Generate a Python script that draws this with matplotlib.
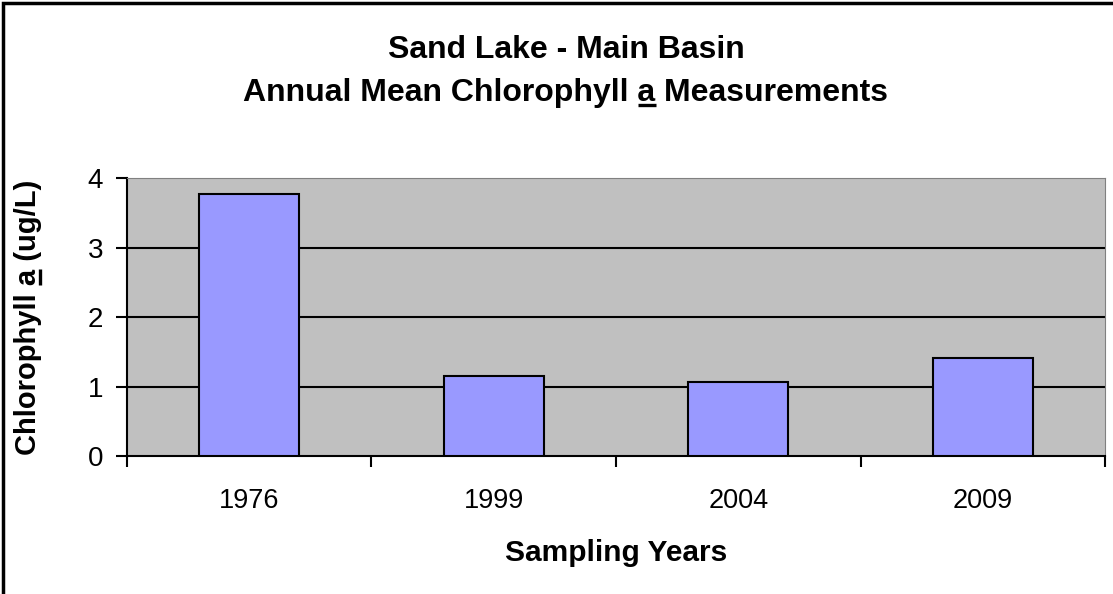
import matplotlib
matplotlib.use('Agg')
import matplotlib.pyplot as plt
from matplotlib.patches import Rectangle
from matplotlib.lines import Line2D

years = ['1976', '1999', '2004', '2009']
chl_a = [3.77, 1.15, 1.06, 1.41]
y_ticks = [0, 1, 2, 3, 4]

plt.rcParams['font.family'] = 'Liberation Sans'

fig = plt.figure(figsize=(11.13, 5.94), dpi=100)
ax = fig.add_axes([0.114, 0.2323, 0.879, 0.468])
ax.set_facecolor('#C0C0C0')

x = range(len(years))
ax.bar(x, chl_a, width=0.41, color='#9999FF', edgecolor='k', linewidth=1.5, zorder=3)

ax.set_xlim(-0.5, len(years) - 0.5)
ax.set_ylim(0, 4)
ax.set_yticks(y_ticks)
ax.set_yticklabels([str(v) for v in y_ticks], fontsize=20)
ax.set_xticks(list(x))
ax.set_xticklabels(years, fontsize=19.5)
ax.set_xticks([i - 0.5 for i in range(len(years) + 1)], minor=True)
ax.tick_params(axis='x', which='major', length=0, pad=23)
ax.tick_params(axis='x', which='minor', length=8, width=1.5, direction='out')
ax.tick_params(axis='y', length=8, width=1.5, direction='out', pad=9)

for v in y_ticks[1:-1]:
    ax.axhline(v, color='k', linewidth=1.5, zorder=1)

ax.spines['left'].set_linewidth(1.5)
ax.spines['bottom'].set_linewidth(1.5)
ax.spines['top'].set_color('#808080')
ax.spines['right'].set_color('#808080')

ax.set_xlabel('Sampling Years', fontsize=21.5, fontweight='bold', labelpad=18)
ylab = ax.set_ylabel('Chlorophyll a (ug/L)', fontsize=21, fontweight='bold', labelpad=33)

fig.text(0.5085, 0.916, 'Sand Lake - Main Basin', ha='center', va='center',
         fontsize=23, fontweight='bold')
t2 = fig.text(0.5085, 0.843, 'Annual Mean Chlorophyll a Measurements',
              ha='center', va='center', fontsize=23, fontweight='bold')

fig.patches.append(Rectangle((0.003, -0.01), 1.1, 1.005, transform=fig.transFigure,
                             fill=False, edgecolor='k', linewidth=2.5))

# underline the "a" in the title and the y label
fig.canvas.draw()
r = fig.canvas.get_renderer()
inv = fig.transFigure.inverted()


def measure(s, txt):
    return r.get_text_width_height_descent(s, txt.get_fontproperties(), ismath=False)


def add_line(p0, p1):
    (x0, y0), (x1, y1) = inv.transform([p0, p1])
    fig.lines.append(Line2D([x0, x1], [y0, y1], transform=fig.transFigure,
                            color='k', linewidth=2.4, solid_capstyle='butt'))


bb = t2.get_window_extent(r)
end = measure('Annual Mean Chlorophyll a', t2)[0]
wa = measure('a', t2)[0]
desc = measure(t2.get_text(), t2)[2]
base = bb.y0 + desc
add_line((bb.x0 + end - wa, base - 4), (bb.x0 + end, base - 4))

bb = ylab.get_window_extent(r)
end = measure('Chlorophyll a', ylab)[0]
wa = measure('a', ylab)[0]
desc = measure(ylab.get_text(), ylab)[2]
base = bb.x1 - desc
add_line((base + 4, bb.y0 + end - wa), (base + 4, bb.y0 + end))

fig.savefig('out.png', dpi=100)
